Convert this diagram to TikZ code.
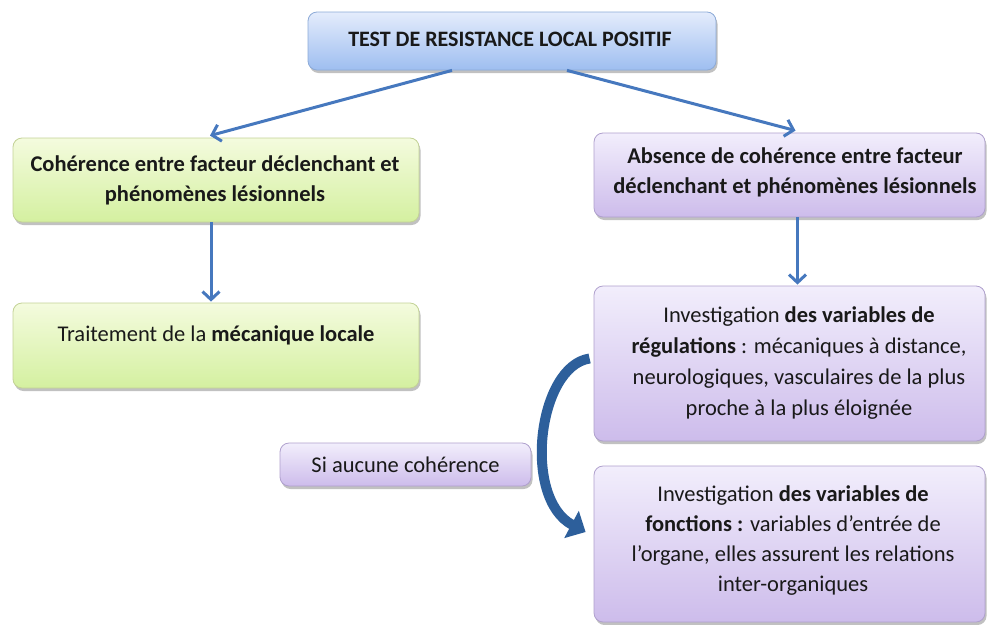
\documentclass[tikz,border=0pt]{standalone}
\usepackage{fontspec}
\setmainfont{Carlito}
\usetikzlibrary{arrows.meta,shadows,calc}
\definecolor{txt}{RGB}{25,25,25}
\definecolor{arrblue}{RGB}{70,120,190}
\definecolor{darkarr}{RGB}{45,95,155}
\tikzset{
  box/.style={rounded corners=9pt, line width=0.8pt, anchor=center, inner sep=0pt,
    drop shadow={shadow xshift=1.5pt, shadow yshift=-3pt, opacity=0.35, fill=black!70}},
  bluebox/.style={box, draw={rgb,255:red,140;green,170;blue,215}, top color={rgb,255:red,228;green,236;blue,252}, bottom color={rgb,255:red,158;green,190;blue,240}},
  greenbox/.style={box, draw={rgb,255:red,195;green,210;blue,150}, top color={rgb,255:red,244;green,251;blue,222}, bottom color={rgb,255:red,212;green,240;blue,160}},
  purplebox/.style={box, draw={rgb,255:red,175;green,160;blue,205}, top color={rgb,255:red,242;green,238;blue,252}, bottom color={rgb,255:red,205;green,188;blue,235}},
  lbl/.style={text=txt, align=center, font=\fontsize{22.5}{30}\selectfont, inner sep=0pt},
  arr/.style={draw=arrblue, line width=3pt, -{Straight Barb[length=8pt,width=17pt,line width=3pt]}},
}
\begin{document}
\begin{tikzpicture}[x=1pt,y=1pt]
\useasboundingbox (0,0) rectangle (987,-624);

% boxes
\node[bluebox, minimum width=408pt, minimum height=58pt] (top) at (512,-41) {};
\node[lbl, font=\fontsize{22}{28}\selectfont\bfseries] (toptxt) at (510,-39) {TEST DE RESISTANCE LOCAL POSITIF};

\node[greenbox, minimum width=406pt, minimum height=84pt] (g1) at (216,-180) {};
\node[lbl, font=\fontsize{22.5}{30}\selectfont\bfseries] (g1txt) at (215,-180) {Cohérence entre facteur déclenchant et\\phénomènes lésionnels};

\node[greenbox, minimum width=406pt, minimum height=85pt] (g2) at (216,-345.5) {};
\node[lbl] (g2txt) at (216,-335) {Traitement de la \textbf{mécanique locale}};

\node[purplebox, minimum width=391pt, minimum height=84pt] (p1) at (789.5,-175) {};
\node[lbl, font=\fontsize{22.5}{30}\selectfont\bfseries] (p1txt) at (795,-172.5) {Absence de cohérence entre facteur\\déclenchant et phénomènes lésionnels};

\node[purplebox, minimum width=391pt, minimum height=155pt] (p2) at (789.5,-363.5) {};
\node[lbl, font=\fontsize{22.5}{31}\selectfont] (p2txt) at (799,-363) {Investigation \textbf{des variables de}\\\textbf{régulations} : mécaniques à distance,\\neurologiques, vasculaires de la plus\\proche à la plus éloignée};

\node[purplebox, minimum width=251pt, minimum height=43pt] (si) at (405.5,-464.5) {};
\node[lbl] (sitxt) at (405.5,-465) {Si aucune cohérence};

\node[purplebox, minimum width=391pt, minimum height=156pt] (p3) at (789.5,-544) {};
\node[lbl, font=\fontsize{22.5}{30}\selectfont] (p3txt) at (793,-541) {Investigation \textbf{des variables de}\\\textbf{fonctions :} variables d’entrée de\\l’organe, elles assurent les relations\\inter-organiques};

% arrows
\draw[arr] ([xshift=-60pt]top.south) -- ([xshift=-6pt,yshift=2pt]g1.north);
\draw[arr] ([xshift=55pt]top.south) -- ([xshift=6pt,yshift=2pt]p1.north);
\draw[arr] ([xshift=-5pt]g1.south) -- ([xshift=-5pt,yshift=1pt]g2.north);
\draw[arr] ([xshift=8pt]p1.south) -- ([xshift=8pt,yshift=1pt]p2.north);

% curved block arrow
\coordinate (cs) at ($(p2.west)+(-4,5)$);
\coordinate (ce) at ($(p3.west)+(-8,12)$);
\draw[darkarr, line width=10pt, -{Triangle[length=16pt,width=30pt]}]
  (cs) .. controls (538,-366) and (522,-498) .. (ce);
\end{tikzpicture}
\end{document}
